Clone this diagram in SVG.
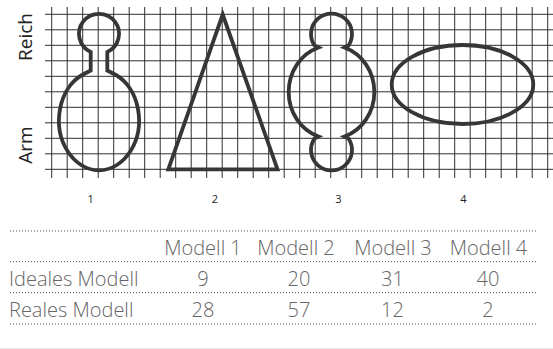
<svg xmlns="http://www.w3.org/2000/svg" width="553" height="349" viewBox="0 0 553 349">
<style>
.grid line{stroke:#2e2e2e;stroke-width:1}
.shape{fill:none;stroke:#363636;stroke-width:3.8;stroke-linejoin:miter}
.axis{font-family:"Open Sans","Liberation Sans",sans-serif;font-size:19px;fill:#222}
.num{font-family:"Open Sans","Liberation Sans",sans-serif;font-size:11px;fill:#222;text-anchor:middle}
.tbl{font-family:"Open Sans","Liberation Sans",sans-serif;font-size:20px;font-weight:300;fill:#666}
.c{text-anchor:middle}
.dot{stroke:#444;stroke-width:1;stroke-dasharray:1 2}
</style>
<rect width="553" height="349" fill="#fff"/>
<g id="grid" class="grid">
<line x1="45" y1="14.3" x2="553" y2="14.3"/>
<line x1="45" y1="29.8" x2="553" y2="29.8"/>
<line x1="45" y1="45.3" x2="553" y2="45.3"/>
<line x1="45" y1="60.8" x2="553" y2="60.8"/>
<line x1="45" y1="76.3" x2="553" y2="76.3"/>
<line x1="45" y1="91.8" x2="553" y2="91.8"/>
<line x1="45" y1="107.3" x2="553" y2="107.3"/>
<line x1="45" y1="122.8" x2="553" y2="122.8"/>
<line x1="45" y1="138.3" x2="553" y2="138.3"/>
<line x1="45" y1="153.8" x2="553" y2="153.8"/>
<line x1="45" y1="169.3" x2="553" y2="169.3"/>
<line x1="51.7" y1="7" x2="51.7" y2="178"/>
<line x1="67.2" y1="7" x2="67.2" y2="178"/>
<line x1="82.7" y1="7" x2="82.7" y2="178"/>
<line x1="98.2" y1="7" x2="98.2" y2="178"/>
<line x1="113.7" y1="7" x2="113.7" y2="178"/>
<line x1="129.2" y1="7" x2="129.2" y2="178"/>
<line x1="144.7" y1="7" x2="144.7" y2="178"/>
<line x1="160.2" y1="7" x2="160.2" y2="178"/>
<line x1="175.7" y1="7" x2="175.7" y2="178"/>
<line x1="191.2" y1="7" x2="191.2" y2="178"/>
<line x1="206.7" y1="7" x2="206.7" y2="178"/>
<line x1="222.2" y1="7" x2="222.2" y2="178"/>
<line x1="237.7" y1="7" x2="237.7" y2="178"/>
<line x1="253.2" y1="7" x2="253.2" y2="178"/>
<line x1="268.7" y1="7" x2="268.7" y2="178"/>
<line x1="284.2" y1="7" x2="284.2" y2="178"/>
<line x1="299.7" y1="7" x2="299.7" y2="178"/>
<line x1="315.2" y1="7" x2="315.2" y2="178"/>
<line x1="330.7" y1="7" x2="330.7" y2="178"/>
<line x1="346.2" y1="7" x2="346.2" y2="178"/>
<line x1="361.7" y1="7" x2="361.7" y2="178"/>
<line x1="377.2" y1="7" x2="377.2" y2="178"/>
<line x1="392.7" y1="7" x2="392.7" y2="178"/>
<line x1="408.2" y1="7" x2="408.2" y2="178"/>
<line x1="423.7" y1="7" x2="423.7" y2="178"/>
<line x1="439.2" y1="7" x2="439.2" y2="178"/>
<line x1="454.7" y1="7" x2="454.7" y2="178"/>
<line x1="470.2" y1="7" x2="470.2" y2="178"/>
<line x1="485.7" y1="7" x2="485.7" y2="178"/>
<line x1="501.2" y1="7" x2="501.2" y2="178"/>
<line x1="516.7" y1="7" x2="516.7" y2="178"/>
<line x1="532.2" y1="7" x2="532.2" y2="178"/>
<line x1="547.7" y1="7" x2="547.7" y2="178"/>
</g>
<g id="axis-labels">
<text class="axis" transform="translate(32,37) rotate(-90)" text-anchor="middle">Reich</text>
<text class="axis" transform="translate(32,145) rotate(-90)" text-anchor="middle">Arm</text>
</g>
<g id="model1">
<path class="shape" d="M90.7,70.5 L90.7,52 A20 20 0 1 1 107.3,52 L107.3,70.5 L116,75 A40 50 0 1 1 82,75 Z"/>
<text class="num" x="90.7" y="203">1</text>
</g>
<g id="model2">
<path class="shape" d="M222.7,14.5 L277.5,169.3 L168.3,169.3 Z"/>
<text class="num" x="215" y="203">2</text>
</g>
<g id="model3">
<path class="shape" d="M318.5,47.5 L314.5,45.5 A20.5 20.5 0 1 1 348.5,45.5 L344.5,47.5 A44 47 0 0 1 344.5,136.5 L348.5,138.5 A20.5 20.5 0 1 1 314.5,138.5 L318.5,136.5 A44 47 0 0 1 318.5,47.5 Z"/>
<text class="num" x="338.3" y="203">3</text>
</g>
<g id="model4">
<ellipse class="shape" cx="462.5" cy="84.5" rx="70.8" ry="39.5"/>
<text class="num" x="463.3" y="203">4</text>
</g>
<g id="connectors"></g>
<g id="table">
<line class="dot" x1="10" y1="231" x2="538" y2="231"/>
<line class="dot" x1="10" y1="261.7" x2="538" y2="261.7"/>
<line class="dot" x1="10" y1="292.7" x2="538" y2="292.7"/>
<line class="dot" x1="10" y1="324" x2="538" y2="324"/>
<text class="tbl c" x="203" y="255">Modell 1</text>
<text class="tbl c" x="296" y="255">Modell 2</text>
<text class="tbl c" x="393" y="255">Modell 3</text>
<text class="tbl c" x="488.5" y="255">Modell 4</text>
<text class="tbl" x="9" y="286">Ideales Modell</text>
<text class="tbl c" x="203" y="286">9</text>
<text class="tbl c" x="299" y="286">20</text>
<text class="tbl c" x="392.5" y="286">31</text>
<text class="tbl c" x="488" y="286">40</text>
<text class="tbl" x="9" y="316.7">Reales Modell</text>
<text class="tbl c" x="203" y="316.7">28</text>
<text class="tbl c" x="299" y="316.7">57</text>
<text class="tbl c" x="392.5" y="316.7">12</text>
<text class="tbl c" x="488" y="316.7">2</text>
</g>
<line x1="0" y1="348.5" x2="553" y2="348.5" stroke="#e6e6e6" stroke-width="1"/>
</svg>
